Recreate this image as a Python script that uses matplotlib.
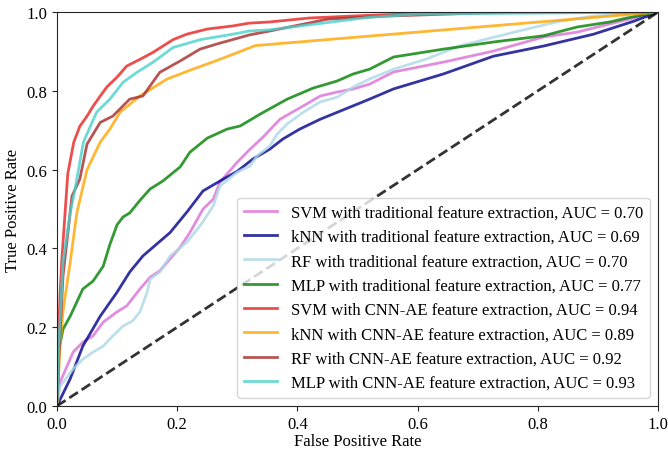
import numpy as np
import matplotlib
matplotlib.use("Agg")
import matplotlib.pyplot as plt

plt.rcParams['font.family'] = ['Liberation Serif', 'DejaVu Serif']
plt.rcParams['font.size'] = 12

# ROC points (fpr, tpr)
svm_trad_fpr = [0, .005, .027, .043, .06, .077, .1, .116, .138, .155, .171, .188, .205, .221, .243, .26, .271, .3, .32,
                .343, .371, .41, .438, .466, .493, .52, .56, .643, .726, .81, .865, .92, 1]
svm_trad_tpr = [0, .06, .137, .162, .178, .213, .239, .254, .297, .327, .343, .373, .403, .44, .5, .525, .568, .619, .65,
                .683, .728, .762, .787, .797, .805, .817, .848, .873, .901, .937, .949, .97, 1]

knn_trad_fpr = [0, .022, .043, .072, .1, .121, .143, .188, .216, .243, .271, .3, .326, .354, .376, .404, .438, .52,
                .56, .643, .726, .81, .893, .96, 1]
knn_trad_tpr = [0, .069, .152, .228, .289, .34, .381, .44, .492, .546, .571, .596, .627, .652, .678, .703, .728, .779,
                .805, .843, .888, .914, .944, .977, 1]

rf_trad_fpr = [0, .005, .027, .043, .06, .077, .093, .11, .126, .138, .15, .155, .171, .188, .216, .238, .26, .271, .3,
               .321, .333, .354, .366, .383, .41, .438, .466, .493, .52, .56, .615, .67, .726, .782, .837, .893, 1]
rf_trad_tpr = [0, .05, .094, .119, .137, .152, .178, .203, .216, .239, .289, .322, .34, .38, .416, .457, .508, .558, .594,
               .609, .635, .66, .69, .716, .746, .772, .784, .81, .83, .855, .881, .914, .936, .957, .977, .99, 1]

mlp_trad_fpr = [0, .003, .01, .022, .033, .043, .06, .077, .088, .1, .11, .121, .138, .155, .176, .205, .221, .25, .283,
                .305, .338, .383, .426, .466, .493, .52, .56, .643, .726, .81, .865, .92, .948, 1]
mlp_trad_tpr = [0, .14, .195, .228, .264, .297, .317, .355, .41, .46, .48, .49, .522, .551, .571, .607, .644, .68, .703,
                .711, .741, .779, .807, .825, .843, .855, .886, .906, .924, .94, .962, .975, .985, 1]

svm_cnn_fpr = [0, .002, .005, .008, .013, .018, .028, .038, .05, .06, .072, .083, .1, .116, .138, .16, .193, .216, .25,
               .293, .32, .354, .42, .52, .6, .7, 1]
svm_cnn_tpr = [0, .15, .28, .37, .48, .59, .67, .71, .736, .761, .787, .81, .835, .863, .88, .898, .93, .944, .957,
               .965, .972, .975, .985, .992, .996, 1, 1]

knn_cnn_fpr = [0, .005, .01, .022, .033, .05, .072, .088, .105, .138, .183, .226, .271, .33, 1]
knn_cnn_tpr = [0, .15, .24, .365, .49, .6, .67, .703, .746, .787, .83, .855, .88, .915, 1]

rf_cnn_fpr = [0, .003, .01, .025, .038, .05, .072, .093, .121, .143, .171, .205, .238, .266, .32, .354, .45, .55, .75, 1]
rf_cnn_tpr = [0, .12, .33, .533, .576, .665, .72, .736, .779, .787, .847, .876, .906, .919, .942, .952, .982, .99, 1, 1]

mlp_cnn_fpr = [0, .003, .01, .022, .03, .044, .066, .088, .11, .133, .16, .193, .238, .293, .32, .354, .52, .6, 1]
mlp_cnn_tpr = [0, .15, .365, .49, .55, .67, .746, .779, .822, .847, .873, .91, .93, .944, .952, .955, .987, .995, 1]

labels = [
    "SVM with traditional feature extraction, AUC = 0.70",
    "kNN with traditional feature extraction, AUC = 0.69",
    "RF with traditional feature extraction, AUC = 0.70",
    "MLP with traditional feature extraction, AUC = 0.77",
    "SVM with CNN-AE feature extraction, AUC = 0.94",
    "kNN with CNN-AE feature extraction, AUC = 0.89",
    "RF with CNN-AE feature extraction, AUC = 0.92",
    "MLP with CNN-AE feature extraction, AUC = 0.93",
]

curves = [
    (svm_trad_fpr, svm_trad_tpr, 'orchid'),
    (knn_trad_fpr, knn_trad_tpr, 'darkblue'),
    (rf_trad_fpr, rf_trad_tpr, 'lightblue'),
    (mlp_trad_fpr, mlp_trad_tpr, 'green'),
    (svm_cnn_fpr, svm_cnn_tpr, '#e82222'),
    (knn_cnn_fpr, knn_cnn_tpr, 'orange'),
    (rf_cnn_fpr, rf_cnn_tpr, 'brown'),
    (mlp_cnn_fpr, mlp_cnn_tpr, 'mediumturquoise'),
]

fig, ax = plt.subplots(figsize=(6.68, 4.52), dpi=100)
fig.subplots_adjust(left=0.0853, right=0.985, bottom=0.0996, top=0.971)

for (fpr, tpr, color), label in zip(curves, labels):
    ax.plot(fpr, tpr, color=color, lw=2, alpha=0.8, label=label)

ax.plot([0, 1], [0, 1], 'k--', lw=2, alpha=0.8)

ax.set_xlim(0, 1)
ax.set_ylim(0, 1)
ax.set_xlabel('False Positive Rate', labelpad=1)
ax.set_ylabel('True Positive Rate')
for sp in ax.spines.values():
    sp.set_color('#262626')
ax.tick_params(colors='#262626', labelcolor='black')
ax.legend(loc='lower right', fontsize=12)

fig.savefig('out.png', dpi=100)
